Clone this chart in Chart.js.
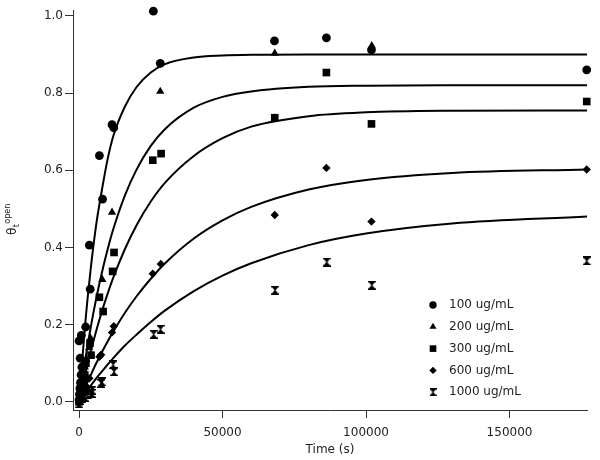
<!DOCTYPE html>
<html>
<head>
<meta charset="utf-8">
<script src="https://cdn.jsdelivr.net/npm/chart.js@4/dist/chart.umd.min.js"></script>
<style>
html, body { margin: 0; padding: 0; background: #fff; }
#wrap { width: 600px; height: 460px; position: relative; }
</style>
</head>
<body>
<div id="wrap"><canvas id="c"></canvas></div>
<script>
// series labels
const seriesNames = ['100 ug/mL', '200 ug/mL', '300 ug/mL', '600 ug/mL', '1000 ug/mL'];

// measured points, [time (s), theta]
const pts100 = [[0, 0.005], [150, 0.02], [300, 0.035], [500, 0.05], [700, 0.07], [1000, 0.09], [400, 0.113], [0, 0.158], [800, 0.172], [2300, 0.194], [3900, 0.292], [3600, 0.406], [8200, 0.525], [7100, 0.638], [11500, 0.718], [12100, 0.71], [25900, 1.012], [28300, 0.877], [68100, 0.935], [86200, 0.943], [101900, 0.912], [176900, 0.86]];
const pts200 = [[0, 0.0], [300, 0.015], [600, 0.03], [1000, 0.05], [1500, 0.07], [2000, 0.09], [2500, 0.11], [3500, 0.14], [4000, 0.165], [8100, 0.317], [11500, 0.491], [28300, 0.804], [68200, 0.903], [102000, 0.922]];
const pts300 = [[0, 0.0], [400, 0.015], [900, 0.03], [1500, 0.05], [2000, 0.07], [2400, 0.1], [4200, 0.121], [3800, 0.152], [7100, 0.271], [8400, 0.234], [11700, 0.338], [12200, 0.387], [25700, 0.626], [28600, 0.643], [68200, 0.736], [86200, 0.853], [101900, 0.72], [176900, 0.778]];
const pts600 = [[0, 0.0], [800, 0.015], [1600, 0.028], [2600, 0.04], [3600, 0.061], [7100, 0.117], [7700, 0.122], [11500, 0.18], [12100, 0.196], [25700, 0.332], [28500, 0.357], [68200, 0.484], [86200, 0.606], [101900, 0.467], [176900, 0.602]];
const pts1000 = [[0, -0.005], [500, 0.003], [1000, 0.008], [2000, 0.012], [3000, 0.018], [4400, 0.022], [4600, 0.03], [7700, 0.048], [8000, 0.052], [11900, 0.096], [12200, 0.078], [26000, 0.175], [28400, 0.188], [68300, 0.289], [86300, 0.362], [102000, 0.302], [176900, 0.365]];

// fitted curves at these times
const fitTimes = [0, 2000, 4000, 6000, 8000, 10000, 12000, 16000, 20000, 25000, 30000, 40000, 50000, 60000, 80000, 100000, 130000, 177000];
const fit100 = [0, 0.19, 0.34, 0.46, 0.55, 0.63, 0.69, 0.765, 0.815, 0.853, 0.875, 0.892, 0.897, 0.899, 0.9, 0.9, 0.9, 0.9];
const fit200 = [0, 0.101, 0.19, 0.268, 0.336, 0.396, 0.449, 0.535, 0.601, 0.663, 0.707, 0.762, 0.79, 0.804, 0.816, 0.819, 0.82, 0.82];
const fit300 = [0, 0.067, 0.128, 0.184, 0.235, 0.281, 0.323, 0.396, 0.457, 0.519, 0.568, 0.637, 0.683, 0.713, 0.74, 0.75, 0.754, 0.755];
const fit600 = [0, 0.035, 0.068, 0.1, 0.129, 0.157, 0.183, 0.231, 0.273, 0.319, 0.359, 0.423, 0.47, 0.505, 0.55, 0.575, 0.593, 0.602];
const fit1000 = [0, 0.021, 0.041, 0.061, 0.079, 0.097, 0.114, 0.146, 0.174, 0.207, 0.237, 0.287, 0.327, 0.359, 0.406, 0.436, 0.462, 0.48];

const xTicks = [0, 50000, 100000, 150000];
const yTicks = [0, 0.2, 0.4, 0.6, 0.8, 1.0];

const FONT = 'DejaVu Sans';
const INK = '#222';

function hourglass(w, h) {
	const c = document.createElement('canvas');
	c.width = w;
	c.height = h;
	const g = c.getContext('2d');
	g.fillStyle = '#000';
	g.beginPath();
	g.moveTo(0, 0);
	g.lineTo(w, 0);
	g.lineTo(w, 1.5);
	g.lineTo(w - 1, 1.5);
	g.lineTo(w / 2 + 0.5, h / 2);
	g.lineTo(w - 1, h - 1.5);
	g.lineTo(w, h - 1.5);
	g.lineTo(w, h);
	g.lineTo(0, h);
	g.lineTo(0, h - 1.5);
	g.lineTo(1, h - 1.5);
	g.lineTo(w / 2 - 0.5, h / 2);
	g.lineTo(1, 1.5);
	g.lineTo(0, 1.5);
	g.closePath();
	g.fill();
	return c;
}

const markStyles = ['circle', 'triangle', 'rect', 'rectRot', hourglass(8, 9)];
const markRadius = [4.4, 4.8, 5.4, 4.2, 4];
const legendStyles = ['circle', 'triangle', 'rect', 'rectRot', hourglass(7, 8)];
const legendRadius = [3.7, 4.1, 4.7, 3.7, 4];

const points = [pts100, pts200, pts300, pts600, pts1000];
const fits = [fit100, fit200, fit300, fit600, fit1000];

const datasets = [];
fits.forEach((f, i) => {
	datasets.push({
		label: 'fit ' + seriesNames[i],
		data: fitTimes.map((t, j) => ({ x: t, y: f[j] })),
		showLine: true,
		borderColor: '#000',
		borderWidth: 2,
		pointRadius: 0,
		cubicInterpolationMode: 'monotone',
		clip: false,
	});
});
points.forEach((p, i) => {
	datasets.push({
		label: seriesNames[i],
		data: p.map(d => ({ x: d[0], y: d[1] })),
		showLine: false,
		pointStyle: markStyles[i],
		pointRadius: markRadius[i],
		backgroundColor: '#000',
		borderColor: '#000',
		borderWidth: 0,
		clip: false,
	});
});

// legend in the lower right corner plus the two axis titles
const decorations = {
	id: 'decorations',
	afterDraw(chart) {
		const { ctx, chartArea } = chart;
		ctx.save();
		ctx.fillStyle = '#000';
		ctx.strokeStyle = '#000';
		const mx = chartArea.right - 154;
		const my = chartArea.bottom - 105;
		seriesNames.forEach((name, i) => {
			const y = my + i * 21.8;
			Chart.helpers.drawPoint(ctx, { pointStyle: legendStyles[i], radius: legendRadius[i], rotation: 0, borderWidth: 0 }, mx, y);
			ctx.fillStyle = INK;
			ctx.font = '12px "' + FONT + '"';
			ctx.textAlign = 'left';
			ctx.textBaseline = 'middle';
			ctx.fillText(name, mx + 16, y);
			ctx.fillStyle = '#000';
		});

		// x title
		ctx.fillStyle = INK;
		ctx.font = '12px "' + FONT + '"';
		ctx.textAlign = 'center';
		ctx.textBaseline = 'middle';
		ctx.fillText('Time (s)', (chartArea.left + chartArea.right) / 2, 450);

		// y title: theta with subscript t and superscript open
		ctx.translate(12, 215);
		ctx.rotate(-Math.PI / 2);
		ctx.textAlign = 'left';
		ctx.textBaseline = 'alphabetic';
		ctx.font = '12px "' + FONT + '"';
		ctx.fillText('θ', -20, 3.5);
		const w = ctx.measureText('θ').width;
		ctx.font = '8px "' + FONT + '"';
		ctx.fillText('t', -20 + w + 0.5, 6.5);
		ctx.fillText('open', -20 + w + 4, -2.5);
		ctx.restore();
	},
};

const axisGrid = { drawOnChartArea: false, drawTicks: true, tickLength: 8, color: '#333' };
const axisBorder = { display: true, color: '#333', width: 1 };

new Chart(document.getElementById('c'), {
	type: 'scatter',
	data: { datasets },
	options: {
		responsive: true,
		maintainAspectRatio: false,
		animation: false,
		devicePixelRatio: 1,
		layout: { padding: { top: 10, right: 13, left: 0, bottom: 0 } },
		plugins: { legend: { display: false }, tooltip: { enabled: false } },
		scales: {
			x: {
				type: 'linear',
				min: -2100,
				max: 177000,
				afterBuildTicks: s => { s.ticks = xTicks.map(v => ({ value: v })); },
				afterFit: s => { s.height = 50; },
				ticks: {
					color: INK,
					font: { family: FONT, size: 12 },
					padding: 8,
					maxRotation: 0,
					autoSkip: false,
					callback: v => String(v),
				},
				grid: axisGrid,
				border: axisBorder,
			},
			y: {
				type: 'linear',
				min: -0.021,
				max: 1.015,
				afterBuildTicks: s => { s.ticks = yTicks.map(v => ({ value: v })); },
				afterFit: s => { s.width = 73; },
				ticks: {
					color: INK,
					font: { family: FONT, size: 12 },
					padding: 2,
					autoSkip: false,
					callback: v => v.toFixed(1),
				},
				grid: axisGrid,
				border: axisBorder,
			},
		},
	},
	plugins: [decorations],
});
</script>
</body>
</html>
